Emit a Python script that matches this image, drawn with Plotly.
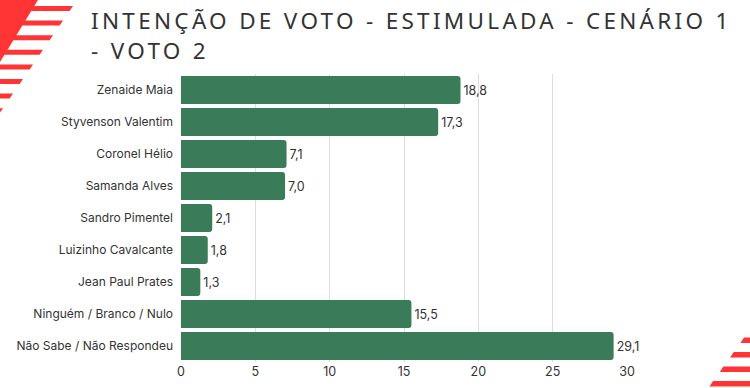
import plotly.graph_objects as go

categories = ["Zenaide Maia", "Styvenson Valentim", "Coronel Hélio", "Samanda Alves",
              "Sandro Pimentel", "Luizinho Cavalcante", "Jean Paul Prates",
              "Ninguém / Branco / Nulo", "Não Sabe / Não Respondeu"]
values = [18.8, 17.3, 7.1, 7.0, 2.1, 1.8, 1.3, 15.5, 29.1]
x_ticks = [0, 5, 10, 15, 20, 25, 30]
title_lines = ["INTENÇÃO DE VOTO - ESTIMULADA - CENÁRIO 1", "- VOTO 2"]

W, H = 750, 388
L, R, T, B = 181, 123, 74, 26
PW, PH = W - L - R, H - T - B

def px(x):
    return (x - L) / PW

def py(y):
    return (H - B - y) / PH

RED = "#FF3535"

fig = go.Figure(go.Bar(
    x=values, y=categories, orientation="h",
    marker=dict(color="#3A7B59", cornerradius=3, line=dict(width=0)),
    text=values, texttemplate="%{x:.1f}", textposition="outside",
    textfont=dict(family="Inter", size=12.5, color="#333333"),
    cliponaxis=False,
))

shapes = []
def poly(pts):
    d = "M " + " L ".join(f"{px(a)},{py(b)}" for a, b in pts) + " Z"
    shapes.append(dict(type="path", path=d, xref="paper", yref="paper",
                       fillcolor=RED, line=dict(width=0), layer="above"))

# top-left decoration
poly([(0, 0), (38, 0), (0, 62)])
for i in range(8):
    yt = 6 + 14.6 * i
    yb = yt + 5
    xr = 73 - 10 * i
    poly([(0, yt), (xr, yt), (xr - 3.4, yb), (0, yb)])
# bottom-right decoration
for i in range(4):
    yt = 337.5 + 14.5 * i
    yb = yt + 5.5
    xl = 744 - 10.3 * i
    poly([(xl, yt), (W, yt), (W, yb), (xl - 3.6, yb)])

title_font = dict(family="Noto Sans", size=22.5, color="#333333")
annotations = [
    dict(text=title_lines[0], x=px(89), y=py(20), xref="paper", yref="paper",
         xanchor="left", yanchor="middle", showarrow=False, font=title_font),
    dict(text=title_lines[1], x=px(89), y=py(51), xref="paper", yref="paper",
         xanchor="left", yanchor="middle", showarrow=False, font=title_font),
]

fig.update_layout(
    width=W, height=H,
    margin=dict(l=L, r=R, t=T, b=B, pad=0, autoexpand=False),
    paper_bgcolor="white", plot_bgcolor="white",
    separators=",.",
    bargap=0.12,
    showlegend=False,
    shapes=shapes,
    annotations=annotations,
    xaxis=dict(range=[0, 30], tickvals=x_ticks, showgrid=True, gridcolor="#DDDDDD",
               gridwidth=1, zeroline=False, showline=False, ticks="", automargin=False,
               tickfont=dict(family="Inter", size=12.5, color="#333333")),
    yaxis=dict(autorange="reversed", showgrid=False, zeroline=False, ticks="",
               ticklabelstandoff=7, automargin=False,
               tickfont=dict(family="Inter", size=12, color="#333333")),
)

post = (
    "document.body.style.margin='0';"
    "document.querySelectorAll('.annotation-text').forEach(function(e){"
    "var b0=e.getBBox();e.style.letterSpacing='3.3px';var b1=e.getBBox();"
    "e.setAttribute('transform','translate('+(b0.x-b1.x)+',0)');});"
)
fig.write_html("out.html", post_script=post, config={"displayModeBar": False})
